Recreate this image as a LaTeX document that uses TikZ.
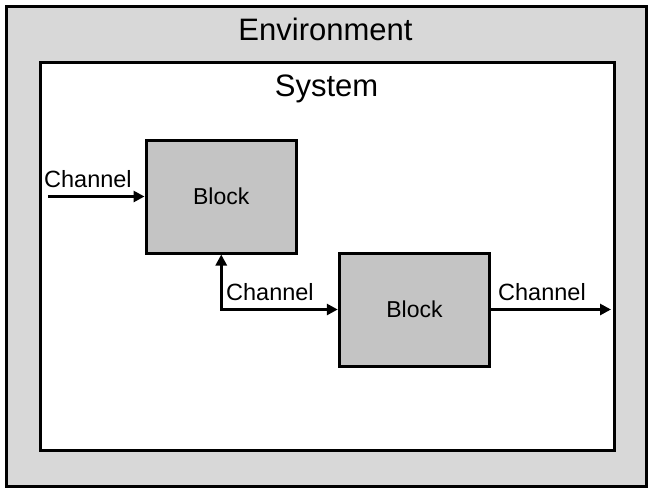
\documentclass[tikz,border=0pt]{standalone}
\usepackage{fontspec}
\setmainfont{Liberation Sans}
\usetikzlibrary{arrows.meta}
\definecolor{envfill}{RGB}{216,216,216}
\definecolor{blockfill}{RGB}{196,196,196}
\tikzset{
  frame/.style={draw=black, line width=3pt},
  blockbox/.style={draw=black, line width=3pt, fill=blockfill, rectangle,
    minimum width=150.5pt, minimum height=113pt, inner sep=0pt,
    font=\fontsize{23}{27}\selectfont},
  biglabel/.style={font=\fontsize{31}{36}\selectfont, inner sep=0pt, anchor=base},
  chlabel/.style={font=\fontsize{23.5}{27}\selectfont, inner sep=0pt, anchor=base west},
  conn/.style={line width=3pt, -{Triangle[length=11pt,width=11pt]}},
  conn2/.style={line width=3pt, {Triangle[length=11pt,width=11pt]}-{Triangle[length=11pt,width=11pt]}}
}
\begin{document}
\begin{tikzpicture}[x=1pt,y=-1pt]
\useasboundingbox (0,0) rectangle (654,493);
\fill[white] (0,0) rectangle (654,493);
% environment
\draw[frame, fill=envfill] (6.5,6.5) rectangle (646.5,486.5);
\node[biglabel] (envlabel) at (325.5,40) {Environment};
% system
\draw[frame, fill=white] (40.5,62.5) rectangle (614.5,450.5);
\node[biglabel] (syslabel) at (326.5,96) {System};
% blocks
\node[blockbox] (b1) at (221.25,196.5) {Block};
\node[blockbox] (b2) at (414.5,309.5) {Block};
% connectors
\coordinate (in) at (48,196.5);
\coordinate (out) at (611,309.5);
\draw[conn] (in) -- (b1.west);
\draw[conn2] (b1.south) |- (b2.west);
\draw[conn] (b2.east) -- (out);
% labels
\node[chlabel] (c1) at (44,187) {Channel};
\node[chlabel] (c2) at (226,300.5) {Channel};
\node[chlabel] (c3) at (498,300.5) {Channel};
\end{tikzpicture}
\end{document}
